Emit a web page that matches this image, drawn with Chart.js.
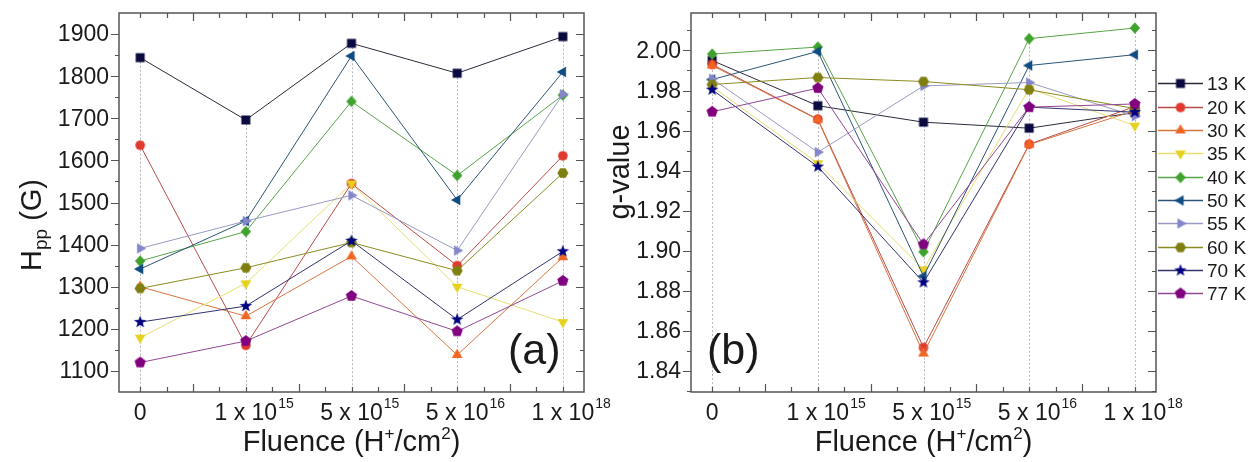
<!DOCTYPE html>
<html>
<head>
<meta charset="utf-8">
<script src="https://cdn.jsdelivr.net/npm/chart.js@4.4.1/dist/chart.umd.min.js"></script>
<style>
  html, body { margin: 0; padding: 0; background: #fff; }
  #wrap { position: relative; width: 1251px; height: 462px; }
  .panel { position: absolute; top: 0; height: 462px; }
  #pa { left: 0; width: 630px; }
  #pb { left: 600px; width: 651px; }
</style>
</head>
<body>
<div id="wrap">
  <div class="panel" id="pa"><canvas id="chartA"></canvas></div>
  <div class="panel" id="pb"><canvas id="chartB"></canvas></div>
</div>
<script>
// --- data ---
const fluenceX = [0, 1, 2, 3, 4];
const fluenceMain = ['0', '1 x 10', '5 x 10', '5 x 10', '1 x 10'];
const fluenceSup = ['', '15', '15', '16', '18'];
const temps = ['13 K', '20 K', '30 K', '35 K', '40 K', '50 K', '55 K', '60 K', '70 K', '77 K'];

// (a) peak-to-peak linewidth, G
const hpp13 = [1844, 1696, 1878, 1807, 1894];
const hpp20 = [1636, 1161, 1545, 1350, 1611];
const hpp30 = [1300, 1230, 1372, 1138, 1370];
const hpp35 = [1179, 1308, 1545, 1300, 1216];
const hpp40 = [1361, 1431, 1740, 1564, 1755];
const hpp50 = [1342, 1456, 1848, 1506, 1810];
const hpp55 = [1391, 1456, 1517, 1386, 1757];
const hpp60 = [1296, 1345, 1405, 1338, 1570];
const hpp70 = [1216, 1254, 1409, 1222, 1384];
const hpp77 = [1120, 1171, 1278, 1194, 1314];

// (b) g-value
const g13 = [1.9950, 1.9724, 1.9642, 1.9612, 1.9690];
const g20 = [1.9930, 1.9657, 1.8517, 1.9532, 1.9720];
const g30 = [1.9925, 1.9655, 1.8487, 1.9530, 1.9700];
const g35 = [1.9820, 1.9437, 1.8907, 1.9810, 1.9625];
const g40 = [1.9982, 2.0017, 1.8995, 2.0059, 2.0112];
const g50 = [1.9855, 1.9995, 1.8873, 1.9925, 1.9979];
const g55 = [1.9859, 1.9492, 1.9823, 1.9840, 1.9672];
const g60 = [1.9830, 1.9865, 1.9845, 1.9804, 1.9710];
const g70 = [1.9804, 1.9420, 1.8842, 1.9717, 1.9692];
const g77 = [1.9694, 1.9812, 1.9032, 1.9717, 1.9733];

const hppTicks = [1100, 1200, 1300, 1400, 1500, 1600, 1700, 1800, 1900];
const gTicks = [1.84, 1.86, 1.88, 1.90, 1.92, 1.94, 1.96, 1.98, 2.00];

// --- styling ---
const FONT = '"Liberation Sans", Arial, sans-serif';
const TXT = '#1a1a1a';
const AXIS = '#555';
const lineColors = ['#2a2a3a', '#b84c48', '#d8743e', '#e6de74', '#58a448', '#2c5476', '#9a9ac4', '#8c8c22', '#34346e', '#924892'];
const markerColors = ['#0a0a40', '#e03a2e', '#f26522', '#e6d21e', '#3ea22c', '#0f4c81', '#8585cc', '#7f7f10', '#000080', '#800080'];
const markerShapes = ['square', 'circle', 'up', 'down', 'diamond', 'left', 'right', 'hexagon', 'star', 'pentagon'];

function markerCanvas(shape, color) {
  const c = document.createElement('canvas');
  c.width = 16; c.height = 16;
  const g = c.getContext('2d');
  g.translate(8, 8);
  g.fillStyle = color;
  g.beginPath();
  const poly = (n, r, rot) => {
    for (let k = 0; k < n; k++) {
      const a = rot + k * 2 * Math.PI / n;
      const px = r * Math.cos(a), py = r * Math.sin(a);
      if (k) g.lineTo(px, py); else g.moveTo(px, py);
    }
    g.closePath();
  };
  switch (shape) {
    case 'square': g.rect(-4.5, -4.5, 9, 9); break;
    case 'circle': g.arc(0, 0, 4.8, 0, 2 * Math.PI); break;
    case 'up': poly(3, 6.2, -Math.PI / 2); break;
    case 'down': poly(3, 6.2, Math.PI / 2); break;
    case 'left': poly(3, 6.2, Math.PI); break;
    case 'right': poly(3, 6.2, 0); break;
    case 'diamond':
      g.moveTo(0, -5.8); g.lineTo(5.2, 0); g.lineTo(0, 5.8); g.lineTo(-5.2, 0); g.closePath(); break;
    case 'hexagon': poly(6, 5.5, 0); break;
    case 'pentagon': poly(5, 5.9, -Math.PI / 2); break;
    case 'star':
      for (let k = 0; k < 10; k++) {
        const r = k % 2 ? 2.7 : 6.6;
        const a = -Math.PI / 2 + k * Math.PI / 5;
        if (k) g.lineTo(r * Math.cos(a), r * Math.sin(a)); else g.moveTo(r * Math.cos(a), r * Math.sin(a));
      }
      g.closePath();
      break;
  }
  g.fill();
  return c;
}
const markers = markerShapes.map((s, i) => markerCanvas(s, markerColors[i]));

function richText(ctx, pieces, cx, base) {
  let total = 0;
  pieces.forEach(p => { ctx.font = p.s + 'px ' + FONT; p.w = ctx.measureText(p.t).width; total += p.w; });
  let xx = cx - total / 2;
  ctx.textAlign = 'left';
  ctx.textBaseline = 'alphabetic';
  pieces.forEach(p => {
    ctx.font = p.s + 'px ' + FONT;
    ctx.fillText(p.t, xx, base + (p.dy || 0));
    xx += p.w;
  });
}

function decor(cfg) {
  return {
    id: 'decor',
    beforeDatasetsDraw(chart) {
      const { ctx, chartArea: a, scales: { x, y } } = chart;
      ctx.save();
      ctx.strokeStyle = '#b8b8b8';
      ctx.lineWidth = 1;
      ctx.setLineDash([2, 2]);
      fluenceX.forEach((fx, j) => {
        const top = Math.max(...cfg.series.map(s => s[j]));
        const px = Math.round(x.getPixelForValue(fx)) + 0.5;
        ctx.beginPath();
        ctx.moveTo(px, y.getPixelForValue(top));
        ctx.lineTo(px, a.bottom);
        ctx.stroke();
      });
      ctx.restore();
    },
    afterDraw(chart) {
      const { ctx, chartArea: a, scales: { x, y } } = chart;
      ctx.save();
      // frame
      ctx.strokeStyle = AXIS;
      ctx.lineWidth = 1.5;
      ctx.strokeRect(a.left, a.top, a.right - a.left, a.bottom - a.top);
      // y ticks: left outward, right inward
      ctx.lineWidth = 1.2;
      const yTick = (v, len) => {
        const py = Math.round(y.getPixelForValue(v)) + 0.5;
        ctx.beginPath();
        ctx.moveTo(a.left - len, py); ctx.lineTo(a.left, py);
        ctx.moveTo(a.right - len, py); ctx.lineTo(a.right, py);
        ctx.stroke();
      };
      cfg.yTicks.forEach(v => yTick(v, 8));
      const step = cfg.yTicks[1] - cfg.yTicks[0];
      for (let k = -1; k < cfg.yTicks.length; k++) {
        const v = cfg.yTicks[0] + (k + 0.5) * step;
        if (v > y.min && v < y.max) yTick(v, 4);
      }
      // x ticks, top and bottom inward
      for (let q = 0; q <= 16; q++) {
        const len = (q % 4 === 2) ? 8 : 5;
        const px = Math.round(x.getPixelForValue(q / 4)) + 0.5;
        ctx.beginPath();
        ctx.moveTo(px, a.bottom - len); ctx.lineTo(px, a.bottom);
        ctx.moveTo(px, a.top); ctx.lineTo(px, a.top + len);
        ctx.stroke();
      }
      // y tick labels
      ctx.fillStyle = TXT;
      ctx.font = '23px ' + FONT;
      ctx.textAlign = 'right';
      ctx.textBaseline = 'middle';
      cfg.yTicks.forEach(v => ctx.fillText(cfg.yFmt(v), a.left - 10, y.getPixelForValue(v) + 1));
      // x tick labels with superscripts
      ctx.textAlign = 'left';
      ctx.textBaseline = 'alphabetic';
      fluenceX.forEach((fx, j) => {
        const px = x.getPixelForValue(fx);
        ctx.font = '23px ' + FONT;
        const w = ctx.measureText(fluenceMain[j]).width;
        ctx.fillText(fluenceMain[j], px - w / 2, 420);
        if (fluenceSup[j]) {
          ctx.font = '14px ' + FONT;
          ctx.fillText(fluenceSup[j], px + w / 2 + 1, 408);
        }
      });
      // x title
      richText(ctx, [
        { t: 'Fluence (H', s: 29 }, { t: '+', s: 17, dy: -12 },
        { t: '/cm', s: 29 }, { t: '2', s: 17, dy: -12 }, { t: ')', s: 29 }
      ], (a.left + a.right) / 2, 451);
      // y title
      ctx.save();
      ctx.translate(cfg.yTitleX, cfg.yTitleY);
      ctx.rotate(-Math.PI / 2);
      richText(ctx, cfg.yTitle, 0, 0);
      ctx.restore();
      // panel label
      ctx.font = '43px ' + FONT;
      ctx.textAlign = 'left';
      ctx.fillText(cfg.panel, cfg.panelX, 364);
      // legend
      if (cfg.legend) {
        chart.data.datasets.forEach((ds, i) => {
          const ly = Math.round(83.4 + i * 23.3) + 0.5;
          ctx.strokeStyle = ds.borderColor;
          ctx.lineWidth = 1.3;
          ctx.beginPath();
          ctx.moveTo(558, ly); ctx.lineTo(603, ly);
          ctx.stroke();
          const m = ds.pointStyle;
          ctx.drawImage(m, 580.5 - m.width / 2, ly - m.height / 2);
          ctx.fillStyle = TXT;
          ctx.font = '19px ' + FONT;
          ctx.textBaseline = 'middle';
          ctx.fillText(ds.label, 607, ly + 1);
        });
      }
      ctx.restore();
    }
  };
}

function buildDatasets(series) {
  return series.map((vals, i) => ({
    label: temps[i],
    data: vals.map((v, j) => ({ x: fluenceX[j], y: v })),
    borderColor: lineColors[i],
    backgroundColor: markerColors[i],
    borderWidth: 1,
    pointStyle: markers[i],
    pointRadius: 5,
    pointHoverRadius: 5,
    tension: 0,
    fill: false,
    order: temps.length - i
  }));
}

function makeChart(id, series, yMin, yMax, padding, cfg) {
  cfg.series = series;
  return new Chart(document.getElementById(id), {
    type: 'line',
    data: { datasets: buildDatasets(series) },
    options: {
      responsive: true,
      maintainAspectRatio: false,
      animation: false,
      events: [],
      layout: { padding: padding },
      scales: {
        x: { type: 'linear', min: -0.2, max: 4.2, display: false },
        y: { type: 'linear', min: yMin, max: yMax, display: false }
      },
      plugins: { legend: { display: false }, tooltip: { enabled: false } }
    },
    plugins: [decor(cfg)]
  });
}

const hppSeries = [hpp13, hpp20, hpp30, hpp35, hpp40, hpp50, hpp55, hpp60, hpp70, hpp77];
const gSeries = [g13, g20, g30, g35, g40, g50, g55, g60, g70, g77];

// panel (a) canvas is wider than its slot so the last tick label is not cut; plot area still ends at x=584
makeChart('chartA', hppSeries, 1050, 1950, { left: 119, right: 46, top: 13, bottom: 70 }, {
  yTicks: hppTicks,
  yFmt: v => String(v),
  yTitle: [{ t: 'H', s: 29 }, { t: 'pp', s: 19, dy: 6 }, { t: ' (G)', s: 29 }],
  yTitleX: 41, yTitleY: 225,
  panel: '(a)', panelX: 508,
  legend: false
});

makeChart('chartB', gSeries, 1.8295, 2.0187, { left: 91, right: 95, top: 13, bottom: 70 }, {
  yTicks: gTicks,
  yFmt: v => v.toFixed(2),
  yTitle: [{ t: 'g-value', s: 29 }],
  yTitleX: 29, yTitleY: 172,
  panel: '(b)', panelX: 107,
  legend: true
});
</script>
</body>
</html>
